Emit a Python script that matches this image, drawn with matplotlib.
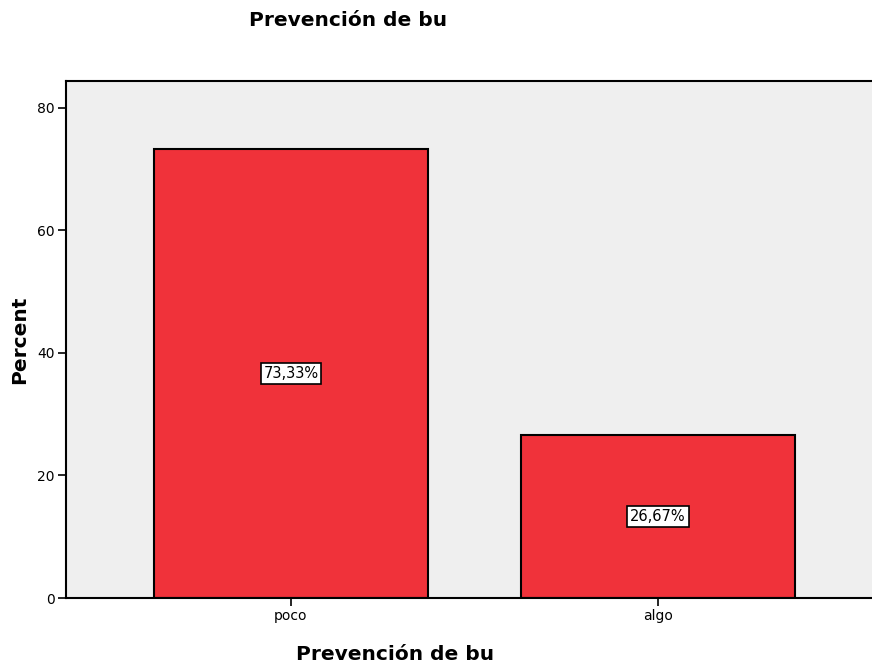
import matplotlib
matplotlib.use("Agg")
import matplotlib.pyplot as plt

# percent per category
categories = ["poco", "algo"]
percents = [73.33, 26.67]
labels = ["73,33%", "26,67%"]
yticks = [0, 20, 40, 60, 80]

plt.rcParams['font.family'] = ['DejaVu Sans']

fig = plt.figure(figsize=(8.72, 6.65), dpi=100)
ax = fig.add_axes([66 / 872, 67 / 665, (872 - 66) / 872, 517 / 665])
ax.set_facecolor('#EFEFEF')

x = range(len(categories))
ax.bar(x, percents, width=0.747, color='#F0323A', edgecolor='black', linewidth=1.5, zorder=2)

for i, (v, lab) in enumerate(zip(percents, labels)):
    ax.text(i, v / 2, lab, ha='center', va='center', fontsize=10.5, zorder=3,
            bbox=dict(boxstyle='square,pad=0.2', facecolor='white', edgecolor='black', linewidth=1.2))

ax.set_xlim(-0.613, 1.583)
ax.set_ylim(0, 84.4)
ax.set_xticks(list(x))
ax.set_xticklabels(categories, fontsize=10)
ax.set_yticks(yticks)
ax.set_yticklabels([str(t) for t in yticks], fontsize=10)
ax.tick_params(axis='both', direction='out', length=6, width=1.2, pad=2)

for side in ['left', 'top', 'bottom']:
    ax.spines[side].set_linewidth(1.5)
ax.spines['right'].set_visible(False)

fig.text(348 / 872, 1 - 21 / 665, "Prevención de bu", ha='center', va='center',
         fontsize=14.5, fontweight='bold')
fig.text(395 / 872, 1 - 655 / 665, "Prevención de bu", ha='center', va='center',
         fontsize=14.5, fontweight='bold')
fig.text(20 / 872, 1 - 340 / 665, "Percent", ha='center', va='center',
         rotation=90, fontsize=14.5, fontweight='bold')

fig.savefig("out.png", dpi=100)
